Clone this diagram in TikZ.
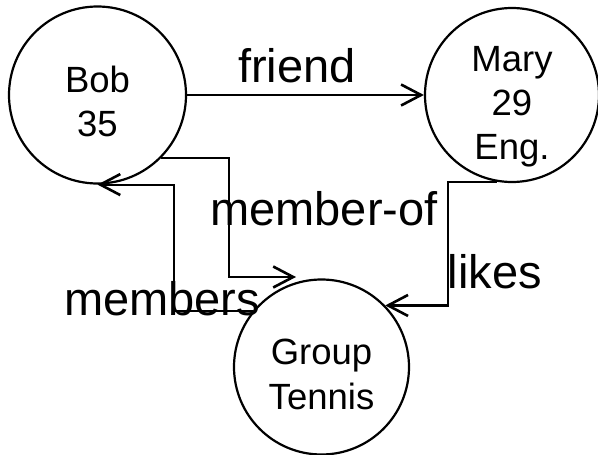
\documentclass[tikz,border=0pt]{standalone}
\usepackage{fontspec}
\setmainfont{Liberation Sans}
\usetikzlibrary{arrows.meta}
\newcommand\circtext[2]{\raisebox{#1}[0pt][0pt]{\begin{tabular}[b]{@{}c@{}}#2\end{tabular}}}
\tikzset{
  circ/.style={circle, draw, line width=2.2pt, minimum size=177pt, inner sep=0pt,
    font=\fontsize{36.5}{44.5}\selectfont},
  lbl/.style={anchor=base, inner sep=0pt, font=\fontsize{47}{56}\selectfont},
  arr/.style={line width=2.2pt, -{Straight Barb[length=20pt, width=21pt, line width=2.6pt]}}
}
\begin{document}
\begin{tikzpicture}[x=1pt, y=-1pt]
\useasboundingbox (0,0) rectangle (598,455);
\node[circ] (bob) at (97.5,95) {\circtext{-42pt}{Bob\\35}};
\node[circ, minimum size=174pt] (mary) at (512,95) {\circtext{-65pt}{Mary\\29\\Eng.}};
\node[circ, minimum size=175pt] (group) at (321.5,367) {\circtext{-42pt}{Group\\Tennis}};
\coordinate (mb) at (229,277);
\coordinate (mt) at (296,277);
\coordinate (mc) at (174,250);
\coordinate (lk) at (448,250);
\draw[arr] (bob.east) -- (mary.west);
\draw[arr] (bob.-45) -| (mb) -- (mt);
\draw[arr] (group.141) -| (mc) |- (bob.south);
\draw[arr] (mary.-100) -| (lk) |- (group.44);
\node[lbl] (lfriend) at (297,82) {friend};
\node[lbl] (lmemberof) at (324,225) {member-of};
\node[lbl] (lmembers) at (162,315) {members};
\node[lbl] (llikes) at (495,288) {likes};
\end{tikzpicture}
\end{document}
